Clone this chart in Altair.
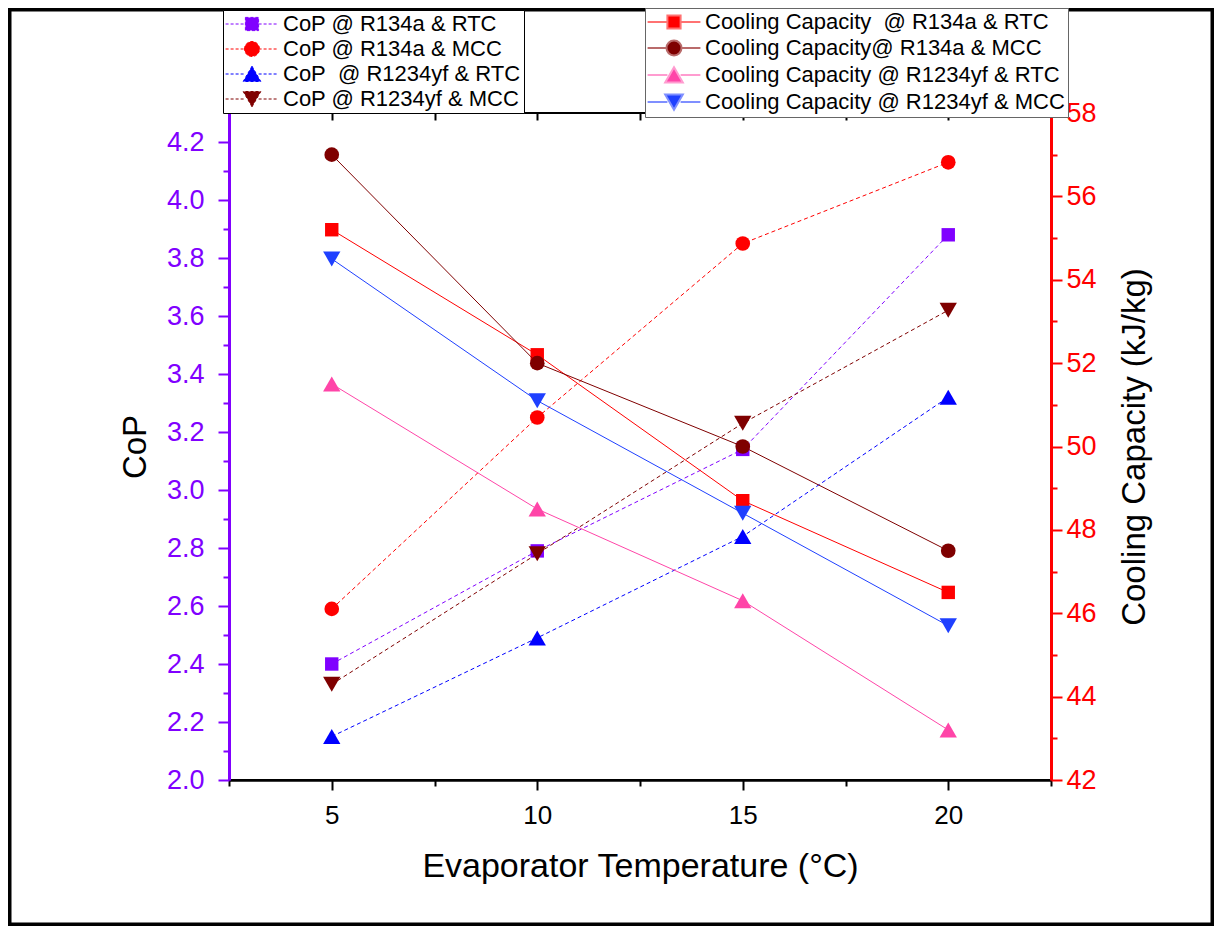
import altair as alt
import pandas as pd

# ---------------- data ----------------
temps = [5, 10, 15, 20]

cop_names = [
    "CoP @ R134a & RTC",
    "CoP @ R134a & MCC",
    "CoP\u00a0 @ R1234yf & RTC",
    "CoP @ R1234yf & MCC",
]
cop_r134a_rtc = [2.40, 2.79, 3.14, 3.88]
cop_r134a_mcc = [2.59, 3.25, 3.85, 4.13]
cop_r1234yf_rtc = [2.15, 2.49, 2.84, 3.32]
cop_r1234yf_mcc = [2.33, 2.78, 3.23, 3.62]

cc_names = [
    "Cooling Capacity\u00a0 @ R134a & RTC",
    "Cooling Capacity@ R134a & MCC",
    "Cooling Capacity @ R1234yf & RTC",
    "Cooling Capacity @ R1234yf & MCC",
]
cc_r134a_rtc = [55.2, 52.2, 48.7, 46.5]
cc_r134a_mcc = [57.0, 52.0, 50.0, 47.5]
cc_r1234yf_rtc = [51.5, 48.5, 46.3, 43.2]
cc_r1234yf_mcc = [54.5, 51.1, 48.4, 45.7]

x_ticks = [2.5, 5, 7.5, 10, 12.5, 15, 17.5, 20, 22.5]
cop_ticks = [2.0, 2.1, 2.2, 2.3, 2.4, 2.5, 2.6, 2.7, 2.8, 2.9, 3.0, 3.1,
             3.2, 3.3, 3.4, 3.5, 3.6, 3.7, 3.8, 3.9, 4.0, 4.1, 4.2]
cc_ticks = [42, 43, 44, 45, 46, 47, 48, 49, 50, 51, 52, 53, 54, 55, 56, 57, 58]

# ---------------- styles ----------------
FONT = "Liberation Sans"
PURPLE = "#8000ff"
RED = "#ff0000"

cop_colors = ["#8000ff", "#ff0000", "#0000ff", "#7f0000"]
cc_colors = ["#ff0000", "#7f0000", "#ff45a8", "#1f40ff"]
cc_legend_line_colors = ["#ff7272", "#b96b6b", "#ff9cd0", "#7f8fff"]
shapes = ["square", "circle", "triangle-up", "triangle-down"]
sizes = [180, 215, 300, 300]

# legend glyphs: line + marker (unit = 6 px for symbolSize 144)
seg = "M-4.4,0H-1.1M1.1,0H4.4"
legend_paths = [
    seg + "M-1.1,-1.1H1.1V1.1H-1.1Z",
    seg + "M-1.25,0A1.25,1.25,0,1,1,1.25,0A1.25,1.25,0,1,1,-1.25,0Z",
    seg + "M0,-1.3L1.47,1.25L-1.47,1.25Z",
    seg + "M0,1.3L1.47,-1.25L-1.47,-1.25Z",
]


def cond(test, a, b):
    return {"condition": {"test": test, "value": a}, "value": b}


xscale = alt.Scale(domain=[2.5, 22.5], nice=False, zero=False)

x_bottom = alt.X(
    "t:Q", scale=xscale,
    axis=alt.Axis(
        orient="bottom", values=x_ticks, grid=False, labelOverlap=False,
        labelExpr="datum.value % 5 == 0 ? datum.label : ''",
        tickSize=cond("datum.value % 5 == 0", 10, 6),
        tickColor="black", tickWidth=2, domainColor="black", domainWidth=2.5,
        labelFont=FONT, labelFontSize=26, labelColor="black", labelPadding=12,
        title="Evaporator Temperature (°C)", titleFont=FONT, titleFontSize=34,
        titleFontWeight="normal", titleColor="black", titlePadding=21,
    ),
)
x_top = alt.X(
    "t:Q", scale=xscale,
    axis=alt.Axis(
        orient="top", values=x_ticks, grid=False, labels=False, domain=False,
        tickSize=7, tickColor="black", tickWidth=2, offset=-7, title=None,
    ),
)

y_left = alt.Y(
    "v:Q", scale=alt.Scale(domain=[2.0, 4.3], nice=False, zero=False),
    axis=alt.Axis(
        orient="left", values=cop_ticks, grid=False, labelOverlap=False,
        labelExpr="round(datum.value*10) % 2 == 0 ? format(datum.value, '.1f') : ''",
        tickSize=cond("round(datum.value*10) % 2 == 0", 11, 6),
        tickColor=PURPLE, tickWidth=2, domainColor=PURPLE, domainWidth=3,
        labelFont=FONT, labelFontSize=27, labelColor=PURPLE, labelPadding=14,
        title="CoP", titleFont=FONT, titleFontSize=33, titleFontWeight="normal",
        titleColor="black", titlePadding=14,
    ),
)
y_right = alt.Y(
    "v:Q", scale=alt.Scale(domain=[42, 58], nice=False, zero=False),
    axis=alt.Axis(
        orient="right", values=cc_ticks, grid=False, labelOverlap=False,
        labelExpr="datum.value % 2 == 0 ? datum.label : ''",
        tickSize=cond("datum.value % 2 == 0", 11, 6),
        tickColor=RED, tickWidth=2, domainColor=RED, domainWidth=3,
        labelFont=FONT, labelFontSize=27, labelColor=RED, labelPadding=4,
        title="Cooling Capacity (kJ/kg)", titleFont=FONT, titleFontSize=33,
        titleFontWeight="normal", titleColor="black", titlePadding=55,
        titleAngle=270,
    ),
)


def series_layers(values_list, colors, dashed, x_enc, y_enc):
    layers = []
    for vals, col, shp, sz in zip(values_list, colors, shapes, sizes):
        df = pd.DataFrame({"t": temps, "v": vals})
        if dashed:
            line = alt.Chart(df).mark_line(color=col, strokeWidth=1, strokeDash=[4, 3])
        else:
            line = alt.Chart(df).mark_line(color=col, strokeWidth=1)
        layers.append(line.encode(x=x_enc, y=y_enc))
        layers.append(
            alt.Chart(df).mark_point(filled=True, shape=shp, size=sz, color=col, opacity=1)
            .encode(x=x_enc, y=y_enc)
        )
    return layers


def legend_carrier(names, fills, strokes, x_enc, y_enc, legend):
    df = pd.DataFrame({"t": [temps[0]] * 4, "v": [0] * 4, "series": names})
    return (
        alt.Chart(df).transform_filter("false").mark_point(filled=True, opacity=1)
        .encode(
            x=x_enc, y=y_enc,
            fill=alt.Fill("series:N", scale=alt.Scale(domain=names, range=fills), legend=legend),
            stroke=alt.Stroke("series:N", scale=alt.Scale(domain=names, range=strokes), legend=legend),
            shape=alt.Shape("series:N", scale=alt.Scale(domain=names, range=legend_paths), legend=legend),
        )
    )


common_leg = dict(
    title=None, orient="none", direction="vertical", fillColor="white",
    padding=3, rowPadding=3, labelFont=FONT, labelFontSize=22, labelColor="black",
    labelLimit=500, symbolSize=144, symbolOpacity=1, symbolOffset=15, labelOffset=20,
)
cop_legend = alt.Legend(legendX=-6, legendY=-103, strokeColor="black",
                        symbolStrokeWidth=1, symbolDash=[3, 2], **common_leg)
cc_legend = alt.Legend(legendX=416, legendY=-105, strokeColor="#666666",
                       symbolStrokeWidth=2, **common_leg)

frame = alt.Chart(pd.DataFrame({"a": [0]})).mark_rect(
    fill="transparent", stroke="black", strokeWidth=4
).encode(
    x=alt.value(-219.5), x2=alt.value(983.5), y=alt.value(-103.5), y2=alt.value(811.5)
)

cop_values = [cop_r134a_rtc, cop_r134a_mcc, cop_r1234yf_rtc, cop_r1234yf_mcc]
cc_values = [cc_r134a_rtc, cc_r134a_mcc, cc_r1234yf_rtc, cc_r1234yf_mcc]

left = alt.layer(
    frame,
    *series_layers(cop_values, cop_colors, True, x_bottom, y_left),
    legend_carrier(cop_names, cop_colors, cop_colors, x_bottom, y_left, cop_legend),
)
right = alt.layer(
    *series_layers(cc_values, cc_colors, False, x_top, y_right),
    legend_carrier(cc_names, cc_colors, cc_legend_line_colors, x_top, y_right, cc_legend),
)

chart = (
    alt.layer(left, right)
    .resolve_scale(y="independent", fill="independent", stroke="independent", shape="independent")
    .resolve_axis(x="independent")
    .properties(
        width=822, height=667,
        padding={"left": 221, "top": 105, "right": 163, "bottom": 146},
        autosize=alt.AutoSizeParams(type="none"),
        background="white",
    )
    .configure_view(stroke="black", strokeWidth=2)
)

chart.save("out.html", embed_options={"renderer": "svg", "actions": False})
